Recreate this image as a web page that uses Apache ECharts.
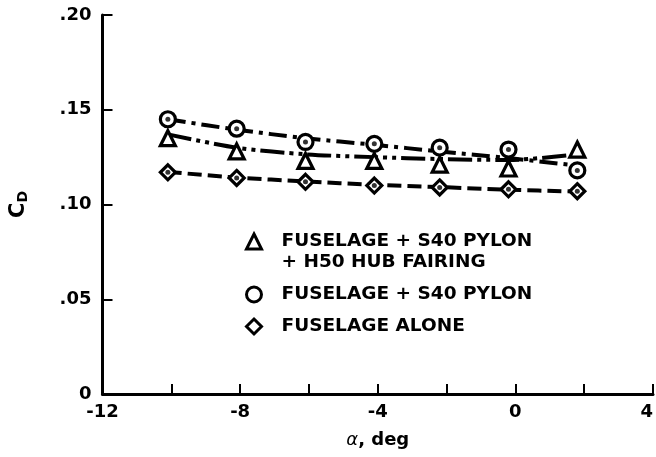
<!DOCTYPE html>
<html>
<head>
<meta charset="utf-8">
<script src="https://cdn.jsdelivr.net/npm/echarts@6/dist/echarts.min.js"></script>
<style>
html, body { margin: 0; padding: 0; background: #fff; }
#chart { width: 656px; height: 457px; }
</style>
</head>
<body>
<div id="chart"></div>
<script>
// angle of attack, deg
const ALPHA = [-10.1, -8.1, -6.1, -4.1, -2.2, -0.2, 1.8];

// measured drag coefficients
const CD_HUB   = [0.135, 0.128, 0.123, 0.123, 0.121, 0.119, 0.129];
const CD_PYLON = [0.145, 0.140, 0.133, 0.132, 0.130, 0.129, 0.118];
const CD_ALONE = [0.117, 0.114, 0.112, 0.110, 0.109, 0.108, 0.107];

// faired curves through the data
const FAIR_HUB   = [0.137, 0.130, 0.1265, 0.125, 0.124, 0.1235, 0.1265];
const FAIR_PYLON = [0.145, 0.1395, 0.135, 0.1315, 0.128, 0.1245, 0.1205];
const FAIR_ALONE = [0.1172, 0.1142, 0.1122, 0.1104, 0.1092, 0.1078, 0.1068];

const NAME_HUB   = 'FUSELAGE + S40 PYLON + H50 HUB FAIRING';
const NAME_PYLON = 'FUSELAGE + S40 PYLON';
const NAME_ALONE = 'FUSELAGE ALONE';

const FONT = 'DejaVu Sans';
const INK  = '#000';

const chart = echarts.init(document.getElementById('chart'), null, { renderer: 'canvas' });

const pts = (ys) => ALPHA.map((x, i) => [x, ys[i]]);

const fairing = (ys, dash) => ({
    type: 'line', data: pts(ys), smooth: 0.3, showSymbol: false, silent: true,
    lineStyle: { color: INK, width: 4, type: dash, cap: 'butt' }, z: 2
});

const marker = (name, ys, symbol, size) => ({
    name, type: 'scatter', data: pts(ys), symbol, symbolSize: size, silent: true,
    symbolKeepAspect: true,
    itemStyle: { color: '#fff', borderColor: INK, borderWidth: 3.2, opacity: 1 }, z: 3
});

const dot = (ys) => ({
    type: 'scatter', data: pts(ys), symbol: 'circle', symbolSize: 5, silent: true,
    itemStyle: { color: INK }, z: 4
});

chart.setOption({
    backgroundColor: '#fff',
    animation: false,
    textStyle: { fontFamily: FONT, color: INK },
    grid: { left: 97, right: 2, top: 15, bottom: 63 },
    legend: {
        orient: 'vertical', left: 245, top: 210, padding: 0,
        itemWidth: 15, itemHeight: 15, itemGap: 11, selectedMode: false,
        symbolKeepAspect: true,
        itemStyle: { color: '#fff', borderColor: INK, borderWidth: 3 },
        data: [NAME_HUB, NAME_PYLON, NAME_ALONE],
        formatter: n => n === NAME_HUB ? '\nFUSELAGE + S40 PYLON\n+ H50 HUB FAIRING' : n,
        textStyle: {
            fontFamily: FONT, fontWeight: 'bold', fontSize: 18.5, lineHeight: 21, color: INK,
            padding: [0, 0, 0, 15]
        }
    },
    xAxis: {
        type: 'value', min: -12, max: 4, interval: 2,
        name: '{a|α}{b|, deg}', nameLocation: 'middle', nameGap: 37,
        nameTextStyle: {
            rich: {
                a: { fontFamily: FONT, fontSize: 18, fontStyle: 'italic', color: INK },
                b: { fontFamily: FONT, fontSize: 18, fontWeight: 'bold', color: INK }
            }
        },
        axisLine: { onZero: false, lineStyle: { color: INK, width: 3 } },
        axisTick: { inside: true, length: 10, lineStyle: { color: INK, width: 2 } },
        axisLabel: {
            fontFamily: FONT, fontSize: 18, fontWeight: 'bold', color: INK, margin: 9,
            alignMaxLabel: 'right',
            formatter: v => (v % 4 === 0 ? String(v) : '')
        },
        splitLine: { show: false }
    },
    yAxis: {
        type: 'value', min: 0, max: 0.2, interval: 0.05,
        name: '{c|C}{d|D}', nameLocation: 'middle', nameGap: 72, nameRotate: 90,
        nameTextStyle: {
            rich: {
                c: { fontFamily: FONT, fontSize: 21, fontWeight: 'bold', color: INK },
                d: { fontFamily: FONT, fontSize: 14, fontWeight: 'bold', color: INK, padding: [10, 0, 0, 0] }
            }
        },
        axisLine: { onZero: false, lineStyle: { color: INK, width: 3 } },
        axisTick: { inside: true, length: 10, lineStyle: { color: INK, width: 2 } },
        axisLabel: {
            fontFamily: FONT, fontSize: 18, fontWeight: 'bold', color: INK, margin: 11,
            formatter: v => (v === 0 ? '0' : v.toFixed(2).replace(/^0/, ''))
        },
        splitLine: { show: false }
    },
    series: [
        fairing(FAIR_PYLON, [18, 6, 4, 6]),
        fairing(FAIR_HUB, [24, 5, 4, 5, 4, 5]),
        fairing(FAIR_ALONE, [14, 6]),
        marker(NAME_HUB, CD_HUB, 'triangle', 15),
        marker(NAME_PYLON, CD_PYLON, 'circle', 15),
        marker(NAME_ALONE, CD_ALONE, 'diamond', 15),
        dot(CD_PYLON),
        dot(CD_ALONE)
    ]
});

window.addEventListener('resize', () => chart.resize());
</script>
</body>
</html>
